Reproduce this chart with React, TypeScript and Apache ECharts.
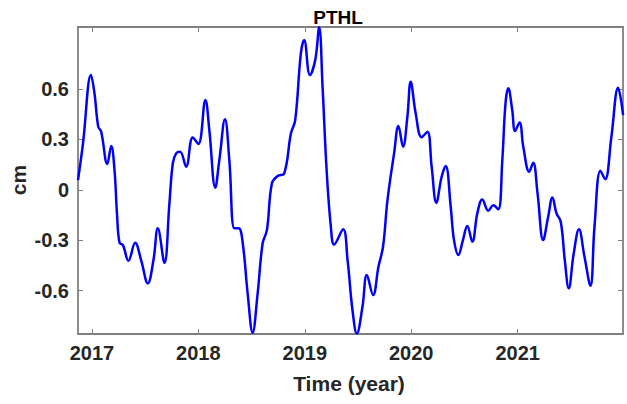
import React, { useEffect, useRef } from "react";
import * as echarts from "echarts";

const times = [
  2016.869, 2016.916, 2016.991, 2017.024, 2017.059, 2017.087, 2017.144, 2017.181, 2017.212, 2017.235,
  2017.259, 2017.291, 2017.343, 2017.406, 2017.462, 2017.525, 2017.578, 2017.619, 2017.681, 2017.728,
  2017.76, 2017.791, 2017.828, 2017.885, 2017.947, 2018.0, 2018.066, 2018.103, 2018.159, 2018.197,
  2018.25, 2018.291, 2018.338, 2018.379, 2018.417, 2018.463, 2018.51, 2018.557, 2018.604, 2018.644,
  2018.691, 2018.745, 2018.807, 2018.87, 2018.91, 2018.963, 2018.994, 2019.048, 2019.098, 2019.135,
  2019.167, 2019.205, 2019.245, 2019.276, 2019.36, 2019.402, 2019.448, 2019.489, 2019.542, 2019.583,
  2019.642, 2019.692, 2019.735, 2019.777, 2019.839, 2019.88, 2019.923, 2019.964, 2019.995, 2020.042,
  2020.098, 2020.152, 2020.192, 2020.236, 2020.286, 2020.324, 2020.371, 2020.402, 2020.443, 2020.486,
  2020.527, 2020.574, 2020.621, 2020.668, 2020.724, 2020.771, 2020.818, 2020.856, 2020.886, 2020.912,
  2020.949, 2020.976, 2021.018, 2021.053, 2021.109, 2021.146, 2021.187, 2021.24, 2021.287, 2021.327,
  2021.365, 2021.405, 2021.443, 2021.48, 2021.527, 2021.576, 2021.628, 2021.684, 2021.722, 2021.778,
  2021.822, 2021.881, 2021.944, 2021.991,
];

const pthl = [
  0.058, 0.277, 0.683, 0.574, 0.376, 0.346, 0.154, 0.261, 0.118, -0.14,
  -0.315, -0.329, -0.422, -0.315, -0.418, -0.557, -0.418, -0.229, -0.434, -0.08,
  0.158, 0.217, 0.227, 0.138, 0.312, 0.273, 0.535, 0.356, 0.013, 0.177,
  0.42, 0.177, -0.229, -0.229, -0.318, -0.616, -0.85, -0.616, -0.318, -0.24,
  0.039, 0.082, 0.098, 0.336, 0.415, 0.812, 0.892, 0.683, 0.773, 0.967,
  0.614, 0.118, -0.22, -0.325, -0.235, -0.418, -0.715, -0.855, -0.696, -0.507,
  -0.626, -0.458, -0.339, -0.061, 0.217, 0.38, 0.257, 0.435, 0.643, 0.455,
  0.313, 0.346, 0.138, -0.077, 0.078, 0.142, -0.1, -0.299, -0.388, -0.299,
  -0.215, -0.309, -0.14, -0.057, -0.124, -0.092, -0.116, 0.177, 0.515, 0.604,
  0.475, 0.35, 0.4, 0.257, 0.108, 0.161, -0.021, -0.299, -0.16, -0.045,
  -0.14, -0.19, -0.418, -0.586, -0.378, -0.235, -0.398, -0.571, -0.22, 0.114,
  0.063, 0.316, 0.608, 0.445,
];

const xTicks = [2017, 2018, 2019, 2020, 2021];
const yTicks = [-0.6, -0.3, 0, 0.3, 0.6];

const X_MIN = 2016.869;
const X_MAX = 2021.99;
const Y_MIN = -0.858;
const Y_MAX = 0.969;

const AXIS_COLOR = "#808080";
const TEXT_COLOR = "#262626";
const FONT = "'Liberation Sans', Arial, Helvetica, sans-serif";

export default function App() {
  const ref = useRef<HTMLDivElement>(null);

  useEffect(() => {
    if (!ref.current) return;
    const chart = echarts.init(ref.current, undefined, { renderer: "svg" });
    const data = times.map((t, i) => [t, pthl[i]]);

    const axisLine = { show: true, onZero: false, lineStyle: { color: AXIS_COLOR, width: 1.8 } };
    const label = {
      color: TEXT_COLOR,
      fontFamily: FONT,
      fontWeight: "bold" as const,
      fontSize: 20,
    };
    const tick = (vals: number[]) => ({
      show: true,
      inside: true,
      length: 5,
      customValues: vals,
      lineStyle: { color: AXIS_COLOR, width: 1 },
    });

    chart.setOption({
      animation: false,
      backgroundColor: "#ffffff",
      grid: { left: 78, right: 4, top: 27, bottom: 70, containLabel: false },
      xAxis: [
        {
          type: "value",
          min: X_MIN,
          max: X_MAX,
          position: "bottom",
          axisLine,
          axisTick: tick(xTicks),
          axisLabel: { ...label, margin: 9, customValues: xTicks, formatter: (v: number) => String(v) },
          splitLine: { show: false },
        },
        {
          type: "value",
          min: X_MIN,
          max: X_MAX,
          position: "top",
          axisLine,
          axisTick: tick(xTicks),
          axisLabel: { show: false },
          splitLine: { show: false },
        },
      ],
      yAxis: [
        {
          type: "value",
          min: Y_MIN,
          max: Y_MAX,
          position: "left",
          axisLine,
          axisTick: tick(yTicks),
          axisLabel: { ...label, margin: 9, customValues: yTicks, formatter: (v: number) => String(v) },
          splitLine: { show: false },
        },
        {
          type: "value",
          min: Y_MIN,
          max: Y_MAX,
          position: "right",
          axisLine,
          axisTick: tick(yTicks),
          axisLabel: { show: false },
          splitLine: { show: false },
        },
      ],
      graphic: [
        {
          type: "text",
          x: 338,
          y: 17,
          style: {
            text: "PTHL",
            fill: "#000000",
            font: `bold 19px ${FONT}`,
            textAlign: "center",
            textVerticalAlign: "middle",
          },
        },
        {
          type: "text",
          x: 349,
          y: 383,
          style: {
            text: "Time (year)",
            fill: TEXT_COLOR,
            font: `bold 21px ${FONT}`,
            textAlign: "center",
            textVerticalAlign: "middle",
          },
        },
        {
          type: "text",
          x: 18,
          y: 180,
          rotation: Math.PI / 2,
          style: {
            text: "cm",
            fill: TEXT_COLOR,
            font: `bold 21px ${FONT}`,
            textAlign: "center",
            textVerticalAlign: "middle",
          },
        },
      ],
      series: [
        {
          type: "line",
          name: "PTHL",
          xAxisIndex: 0,
          yAxisIndex: 0,
          data,
          showSymbol: false,
          smooth: 0.4,
          clip: true,
          lineStyle: { color: "#0000ff", width: 2.5 },
          itemStyle: { color: "#0000ff" },
        },
      ],
    });

    return () => chart.dispose();
  }, []);

  return (
    <div
      ref={ref}
      style={{ position: "fixed", left: 0, top: 0, width: 627, height: 404, background: "#fff" }}
    />
  );
}
